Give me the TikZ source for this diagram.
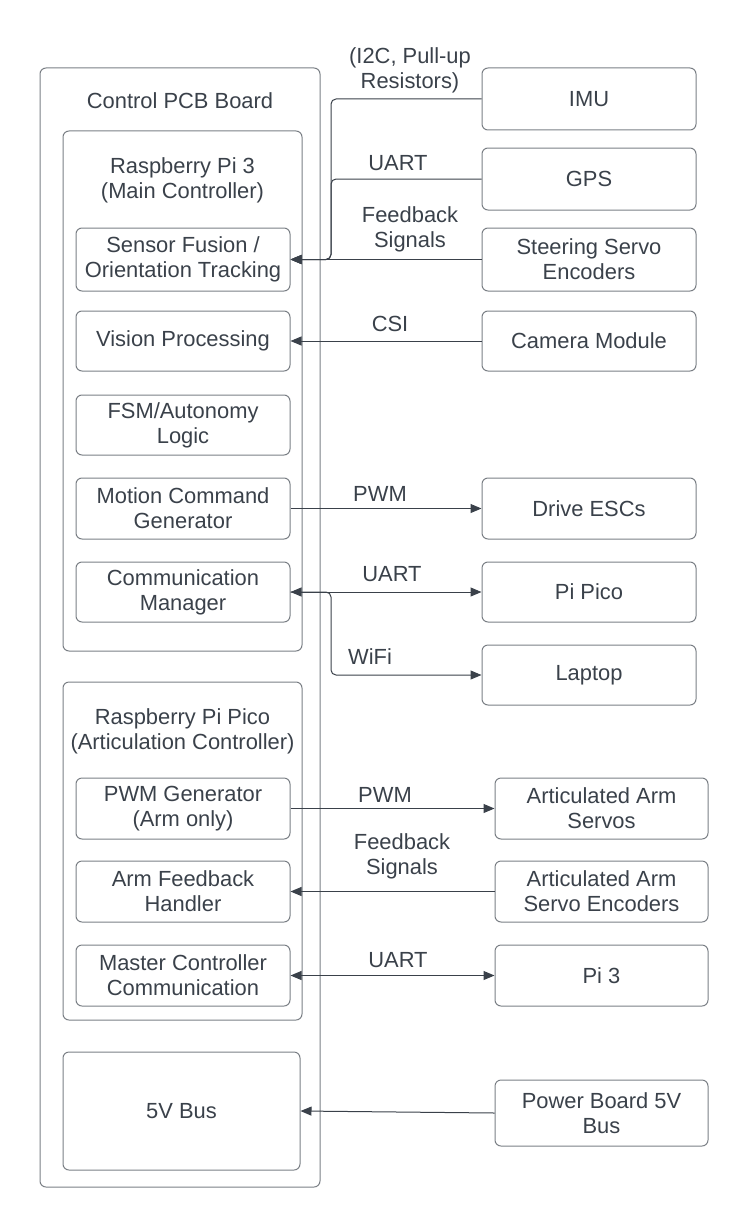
\documentclass[tikz,border=0pt]{standalone}
\usepackage{fontspec}
\setmainfont{Liberation Sans}
\usetikzlibrary{arrows.meta}
\definecolor{ink}{HTML}{3A414A}
\definecolor{edge}{HTML}{7A7F85}
\begin{document}
\begin{tikzpicture}[x=1pt,y=-1pt,
  every node/.style={font=\fontsize{21.9}{25}\selectfont, text=ink, align=center},
  box/.style={draw=edge, line width=1pt, rounded corners=6pt, inner sep=0pt},
  lbl/.style={inner sep=0pt},
  wire/.style={draw=ink, line width=1pt, rounded corners=5pt},
  arr/.style={wire, -{Triangle[length=11pt,width=9pt]}},
  darr/.style={wire, {Triangle[length=11pt,width=9pt]}-{Triangle[length=11pt,width=9pt]}}]
\useasboundingbox (0,0) rectangle (749,1228);
% containers
\node[box, minimum width=280pt, minimum height=1119pt] (pcb) at (180,627.5) {};
\node[lbl] (pcbt) at (180,101) {Control PCB Board};
\node[box, minimum width=239pt, minimum height=520pt] (pi3) at (182.5,391) {};
\node[lbl] (pi3t) at (182.5,180.5) {Raspberry Pi 3\\(Main Controller)};
\node[box, minimum width=239pt, minimum height=338pt] (pico) at (182.5,851) {};
\node[lbl] (picot) at (182.5,731) {Raspberry Pi Pico\\(Articulation Controller)};
% inner boxes
\node[box, minimum width=214pt, minimum height=63pt] (sf) at (183,259.5) {Sensor Fusion /\\Orientation Tracking};
\node[box, minimum width=214pt, minimum height=60pt] (vp) at (183,341) {Vision Processing};
\node[box, minimum width=214pt, minimum height=60pt] (fsm) at (183,425) {FSM/Autonomy\\Logic};
\node[box, minimum width=214pt, minimum height=61pt] (mc) at (183,508.5) {Motion Command\\Generator};
\node[box, minimum width=214pt, minimum height=60pt] (cm) at (183,592) {Communication\\Manager};
\node[box, minimum width=214pt, minimum height=61pt] (pg) at (183,808.5) {PWM Generator\\(Arm only)};
\node[box, minimum width=214pt, minimum height=61pt] (af) at (183,891.5) {Arm Feedback\\Handler};
\node[box, minimum width=214pt, minimum height=61pt] (mcc) at (183,975.5) {Master Controller\\Communication};
\node[box, minimum width=237pt, minimum height=118pt] (bus) at (181.5,1111) {5V Bus};
% right boxes
\node[box, minimum width=214pt, minimum height=62pt] (imu) at (589,99) {IMU};
\node[box, minimum width=214pt, minimum height=62pt] (gps) at (589,179) {GPS};
\node[box, minimum width=214pt, minimum height=63pt] (ste) at (589,259.5) {Steering Servo\\Encoders};
\node[box, minimum width=214pt, minimum height=60pt] (cam) at (589,341) {Camera Module};
\node[box, minimum width=214pt, minimum height=61pt] (esc) at (589,508.5) {Drive ESCs};
\node[box, minimum width=214pt, minimum height=60pt] (ppico) at (589,592) {Pi Pico};
\node[box, minimum width=214pt, minimum height=60pt] (lap) at (589,675) {Laptop};
\node[box, minimum width=213pt, minimum height=61pt] (aas) at (601.5,808.5) {Articulated Arm\\Servos};
\node[box, minimum width=213pt, minimum height=61pt] (aae) at (601.5,891.5) {Articulated Arm\\Servo Encoders};
\node[box, minimum width=213pt, minimum height=61pt] (p3) at (601.5,975.5) {Pi 3};
\node[box, minimum width=213pt, minimum height=66pt] (pb) at (601.5,1113) {Power Board 5V\\Bus};
% junction column
\coordinate (jx) at (331,0);
% connectors
\draw[arr] (imu.west) -- (imu.west -| jx) -- (jx |- sf.east) -- (sf.east);
\draw[arr] (gps.west) -- (gps.west -| jx) -- (jx |- sf.east) -- (sf.east);
\draw[arr] (ste.west) -- (sf.east);
\draw[arr] (cam.west) -- (vp.east);
\draw[arr] (mc.east) -- (esc.west);
\draw[darr] (cm.east) -- (ppico.west);
\draw[arr] (cm.east) -- (cm.east -| jx) -- (jx |- lap.west) -- (lap.west);
\draw[arr] (pg.east) -- (aas.west);
\draw[arr] (aae.west) -- (af.east);
\draw[darr] (mcc.east) -- (p3.west);
\draw[arr] (pb.west) -- (bus.east);
% labels
\node[lbl] (l1) at (410,70) {(I2C, Pull-up\\Resistors)};
\node[lbl] (l2) at (398,163) {UART};
\node[lbl] (l3) at (410,229) {Feedback\\Signals};
\node[lbl] (l4) at (390,324) {CSI};
\node[lbl] (l5) at (380,494) {PWM};
\node[lbl] (l6) at (392,574) {UART};
\node[lbl] (l7) at (370,657) {WiFi};
\node[lbl] (l8) at (385,795) {PWM};
\node[lbl] (l9) at (402,856) {Feedback\\Signals};
\node[lbl] (l10) at (398,960) {UART};
\end{tikzpicture}
\end{document}
